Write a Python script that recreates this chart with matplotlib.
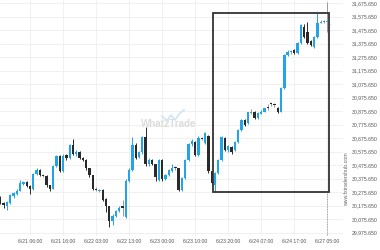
# Candlestick chart with a highlighted range box (recreated)

import matplotlib
matplotlib.use("Agg")
import matplotlib.pyplot as plt
from matplotlib.patches import Rectangle
from matplotlib.lines import Line2D

# Hourly candles
opens = [30232, 30195, 30175, 30195, 30245, 30262, 30285, 30335, 30350, 30320,
         30300, 30410, 30440, 30405, 30398, 30325, 30300, 30470, 30545, 30430,
         30550, 30525, 30625, 30555, 30572, 30530, 30515, 30450, 30400, 30300,
         30285, 30290, 30225, 30170, 30060, 30100, 30135, 30170, 30090, 30360,
         30440, 30625, 30535, 30570, 30680, 30480, 30515, 30480, 30365, 30513,
         30372, 30400, 30430, 30458, 30450, 30290, 30380, 30513, 30630, 30648,
         30550, 30676, 30640, 30690, 30430, 30330, 30420, 30515, 30675, 30590,
         30610, 30585, 30645, 30735, 30810, 30785, 30862, 30868, 30825, 30855,
         30870, 30905, 30930, 30922, 30898, 30868, 31046, 31291, 31310, 31328,
         31305, 31380, 31500, 31460, 31395, 31350, 31424, 31530, 31535, 31535]
closes = [30195, 30180, 30200, 30250, 30265, 30285, 30345, 30350, 30320, 30300,
          30410, 30440, 30405, 30398, 30325, 30300, 30470, 30545, 30430, 30545,
          30525, 30625, 30555, 30575, 30530, 30515, 30450, 30400, 30300, 30290,
          30292, 30220, 30170, 30060, 30100, 30135, 30160, 30160, 30360, 30440,
          30625, 30530, 30570, 30680, 30480, 30515, 30480, 30390, 30513, 30370,
          30400, 30440, 30455, 30450, 30290, 30380, 30513, 30635, 30650, 30550,
          30675, 30670, 30713, 30430, 30345, 30420, 30515, 30685, 30590, 30615,
          30570, 30645, 30735, 30810, 30772, 30865, 30868, 30825, 30860, 30870,
          30895, 30900, 30928, 30918, 30868, 31046, 31291, 31313, 31318, 31305,
          31380, 31513, 31424, 31380, 31365, 31424, 31528, 31538, 31542, 31540]
highs = [30245, 30205, 30210, 30260, 30275, 30295, 30362, 30355, 30358, 30325,
         30415, 30455, 30445, 30410, 30400, 30330, 30475, 30550, 30550, 30555,
         30560, 30630, 30672, 30585, 30578, 30535, 30520, 30455, 30405, 30310,
         30300, 30295, 30230, 30175, 30110, 30145, 30170, 30220, 30370, 30450,
         30680, 30640, 30580, 30690, 30755, 30525, 30520, 30485, 30520, 30518,
         30410, 30448, 30480, 30470, 30455, 30390, 30520, 30640, 30665, 30655,
         30690, 30685, 30720, 30700, 30435, 30425, 30520, 30690, 30680, 30625,
         30615, 30650, 30740, 30815, 30815, 30870, 30890, 30875, 30865, 30880,
         30900, 30925, 30945, 30935, 30905, 31055, 31295, 31330, 31330, 31335,
         31385, 31518, 31520, 31535, 31400, 31430, 31602, 31548, 31552, 31683]
lows = [30185, 30160, 30140, 30185, 30235, 30255, 30280, 30325, 30310, 30260,
        30290, 30400, 30395, 30390, 30315, 30285, 30295, 30460, 30425, 30425,
        30515, 30520, 30550, 30545, 30520, 30505, 30440, 30390, 30290, 30285,
        30275, 30210, 30130, 30020, 30030, 30090, 30125, 30100, 30080, 30350,
        30430, 30520, 30525, 30560, 30470, 30470, 30475, 30360, 30355, 30360,
        30365, 30395, 30425, 30440, 30280, 30280, 30375, 30505, 30620, 30540,
        30545, 30660, 30635, 30420, 30330, 30276, 30410, 30505, 30580, 30575,
        30560, 30580, 30640, 30730, 30765, 30780, 30855, 30815, 30820, 30850,
        30865, 30885, 30910, 30905, 30862, 30865, 31040, 31285, 31300, 31300,
        31300, 31375, 31415, 31375, 31355, 31345, 31420, 31525, 31530, 31461]

# x tick labels every 10 candles
tick_idx = [9, 19, 29, 39, 49, 59, 69, 79, 89, 99]
tick_labels = ["6/21 06:00", "6/21 16:00", "6/22 03:00", "6/22 13:00",
               "6/23 00:00", "6/23 10:00", "6/23 20:00", "6/24 07:00",
               "6/24 17:00", "6/27 05:00"]
price_ticks = [29975.65 + 100 * k for k in range(18)]

# highlighted range
box_start, box_end = 64.4, 99.5
box_low, box_high = 30273, 31603

up_color = "#22a5e8"
down_color = "#2a2a2a"

plt.rcParams["font.family"] = ["Liberation Sans", "DejaVu Sans"]

fig = plt.figure(figsize=(3.8, 2.5), dpi=100)
ax = fig.add_axes([0.0, 0.056, 0.903, 0.944])

for i in range(len(opens)):
    o, c, h, l = opens[i], closes[i], highs[i], lows[i]
    col = up_color if c >= o else down_color
    wick = "#9a9a9a" if abs(c - o) < 12 else col
    ax.vlines(i, l, h, color=wick, linewidth=0.7, zorder=2)
    ax.bar(i, max(abs(c - o), 7), bottom=min(o, c), width=0.7,
           color=col, linewidth=0, zorder=3)

ax.add_patch(Rectangle((box_start, box_low), box_end - box_start,
                       box_high - box_low, fill=False,
                       edgecolor="#333333", linewidth=1.3, zorder=4))
ax.vlines(99, 29950, box_low, color="#888888", linewidth=0.6,
          linestyles=(0, (1, 1)), zorder=1)
ax.text(99.6, 31500, "\u2191", fontsize=5, color="#555555",
        ha="center", va="center", zorder=5)

# watermarks
ax.text(51, 30780, "What2Trade", fontsize=7, fontweight="bold",
        color="#dcdcdc", ha="center", va="center", zorder=1)
logo_x = [162 / 380, 167 / 380, 171 / 380, 175 / 380, 179 / 380, 184 / 380]
logo_y = [1 - 116 / 250, 1 - 121 / 250, 1 - 115 / 250, 1 - 120 / 250,
          1 - 114 / 250, 1 - 110 / 250]
fig.add_artist(Line2D(logo_x, logo_y, color="#cfe5f4", linewidth=1.2))
fig.text(0.913, 0.175, "www.fxtradershub.com", fontsize=3.8,
         color="#666666", rotation=90, ha="center", va="bottom")

ax.set_xlim(-0.09, 103.8)
ax.set_ylim(29950, 31698)
ax.set_xticks(tick_idx)
ax.set_xticklabels(tick_labels)
ax.set_yticks(price_ticks)
ax.set_yticklabels([f"{v:,.3f}" for v in price_ticks])
ax.yaxis.tick_right()
ax.tick_params(axis="both", length=0, labelsize=3.7, colors="#555555")
ax.tick_params(axis="y", pad=6)
ax.tick_params(axis="x", pad=2.5)
ax.grid(True, color="#eeeeee", linewidth=0.6)
ax.set_axisbelow(True)
for s in ax.spines.values():
    s.set_visible(False)

fig.savefig("out.png", dpi=100)
